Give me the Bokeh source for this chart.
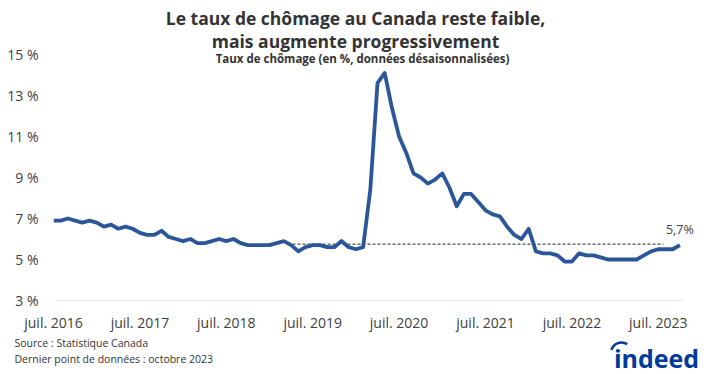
from bokeh.plotting import figure
from bokeh.models import Range1d, FixedTicker, ColumnDataSource
from bokeh.layouts import column
from bokeh.core.properties import value
from bokeh.embed import file_html
from bokeh.resources import INLINE

# ---------------- data ----------------
rate = [
    # 2016 (juil. -> déc.)
    6.9, 6.9, 7.0, 6.9, 6.8, 6.9,
    # 2017
    6.8, 6.6, 6.7, 6.5, 6.6, 6.5, 6.3, 6.2, 6.2, 6.4, 6.1, 6.0,
    # 2018
    5.9, 6.0, 5.8, 5.8, 5.9, 6.0, 5.9, 6.0, 5.8, 5.7, 5.7, 5.7,
    # 2019
    5.7, 5.8, 5.9, 5.7, 5.4, 5.6, 5.7, 5.7, 5.6, 5.6, 5.9, 5.6,
    # 2020
    5.5, 5.6, 8.4, 13.6, 14.1, 12.4, 11.0, 10.2, 9.2, 9.0, 8.7, 8.9,
    # 2021
    9.2, 8.5, 7.6, 8.2, 8.2, 7.8, 7.4, 7.2, 7.1, 6.6, 6.2, 6.0,
    # 2022
    6.5, 5.4, 5.3, 5.3, 5.2, 4.9, 4.9, 5.3, 5.2, 5.2, 5.1, 5.0,
    # 2023 (janv. -> oct.)
    5.0, 5.0, 5.0, 5.0, 5.2, 5.4, 5.5, 5.5, 5.5, 5.7,
]
month_index = list(range(len(rate)))

x_tick_positions = [0, 12, 24, 36, 48, 60, 72, 84]
x_tick_labels = ["juil. 2016", "juil. 2017", "juil. 2018", "juil. 2019",
                 "juil. 2020", "juil. 2021", "juil. 2022", "juil. 2023"]
y_tick_values = [3, 5, 7, 9, 11, 13, 15]
y_tick_labels = ["3 %", "5 %", "7 %", "9 %", "11 %", "13 %", "15 %"]

ref_level = 5.75
ref_start, ref_end = 33.2, 84.7

title_1 = "Le taux de chômage au Canada reste faible,"
title_2 = "mais augmente progressivement"
subtitle = "Taux de chômage (en %, données désaisonnalisées)"
source_1 = "Source : Statistique Canada"
source_2 = "Dernier point de données : octobre 2023"
last_label = f"{rate[-1]:.1f}%".replace(".", ",")

FONT = "Open Sans"
LINE_BLUE = "#2B579A"
TEXT = "#404040"
DARK = "#333333"
INDEED = "#003A9B"

W = 712
MAIN_H = 334
FOOT_H = 40

# frame geometry (pixels)
FRAME_L, FRAME_R, FRAME_T, FRAME_B = 53, 697, 0, 300
PX_PER_MONTH = 7.2
PX_PER_PCT = 20.5
x_end = (FRAME_R - FRAME_L) / PX_PER_MONTH
y_top = y_tick_values[0] + (FRAME_B - FRAME_T) / PX_PER_PCT


def px_x(px):
    return (px - FRAME_L) / PX_PER_MONTH


def px_y(py):
    return y_tick_values[0] + (FRAME_B - py) / PX_PER_PCT


# ---------------- main chart ----------------
p = figure(width=W, height=MAIN_H, output_backend="svg", toolbar_location=None,
           x_range=Range1d(0, x_end), y_range=Range1d(y_tick_values[0], y_top),
           min_border_left=FRAME_L, min_border_right=W - FRAME_R, min_border_top=FRAME_T,
           min_border_bottom=MAIN_H - FRAME_B, frame_align=False)
p.outline_line_color = None
p.xgrid.visible = False
p.ygrid.visible = False
p.background_fill_color = "white"
p.border_fill_color = "white"

src = ColumnDataSource(dict(x=month_index, y=rate))
p.line(x=[0, month_index[-1] + 0.5], y=[y_tick_values[0]] * 2, line_color="#d9d9d9", line_width=1.2)
p.line(x=[ref_start, ref_end], y=[ref_level, ref_level], line_color="#222222",
       line_width=1, line_dash="3 2")
p.line("x", "y", source=src, line_color=LINE_BLUE, line_width=3.8, line_join="round")

p.text(x=[month_index[-1]], y=[rate[-1]], text=[last_label], text_align="center",
       text_baseline="bottom", y_offset=-7, text_font=value(FONT),
       text_font_size="12.5px", text_color=TEXT)

# titles (drawn inside the top of the frame)
p.text(x=[px_x(355), px_x(355)], y=[px_y(17), px_y(40)], text=[title_1, title_2],
       text_align="center", text_baseline="middle", text_font=value(FONT),
       text_font_size="17.5px", text_font_style="bold", text_color=DARK)
p.text(x=[px_x(362)], y=[px_y(58)], text=[subtitle],
       text_align="center", text_baseline="middle", text_font=value(FONT),
       text_font_size="11.5px", text_font_style="bold", text_color=DARK)

p.yaxis.ticker = FixedTicker(ticks=y_tick_values)
p.yaxis.major_label_overrides = {v: l for v, l in zip(y_tick_values, y_tick_labels)}
p.yaxis.axis_line_color = None
p.yaxis.major_tick_line_color = None
p.yaxis.minor_tick_line_color = None
p.yaxis.major_tick_out = 0
p.yaxis.major_tick_in = 0
p.yaxis.major_label_standoff = 15
p.yaxis.major_label_text_font = FONT
p.yaxis.major_label_text_font_size = "14px"
p.yaxis.major_label_text_color = TEXT

p.xaxis.ticker = FixedTicker(ticks=x_tick_positions)
p.xaxis.major_label_overrides = {v: l for v, l in zip(x_tick_positions, x_tick_labels)}
p.xaxis.axis_line_color = None
p.xaxis.major_tick_line_color = None
p.xaxis.minor_tick_line_color = None
p.xaxis.major_tick_out = 0
p.xaxis.major_tick_in = 0
p.xaxis.major_label_standoff = 12
p.xaxis.major_label_text_font = FONT
p.xaxis.major_label_text_font_size = "14px"
p.xaxis.major_label_text_color = TEXT

# ---------------- footer ----------------
foot = figure(width=W, height=FOOT_H, output_backend="svg", toolbar_location=None,
              x_range=Range1d(0, W), y_range=Range1d(FOOT_H, 0),
              min_border=0, min_border_left=0, min_border_right=0,
              min_border_top=0, min_border_bottom=0, frame_align=False)
foot.axis.visible = False
foot.grid.visible = False
foot.outline_line_color = None
foot.background_fill_color = "white"
foot.border_fill_color = "white"

foot.text(x=[14, 14], y=[8.5, 24], text=[source_1, source_2], text_align="left",
          text_baseline="middle", text_font=value(FONT), text_font_size="10.5px",
          text_color=DARK)
foot.text(x=[656], y=[23], text=["indeed"], text_align="center", text_baseline="alphabetic",
          text_font=value(FONT), text_font_size="25px", text_font_style="bold",
          text_color=INDEED)
foot.arc(x=[621], y=[18.5], radius=10.5, start_angle=1.0, end_angle=2.85,
         line_color=INDEED, line_width=2.6, direction="anticlock")

layout = column(p, foot, spacing=0)
open("out.html", "w").write(file_html(layout, INLINE))
